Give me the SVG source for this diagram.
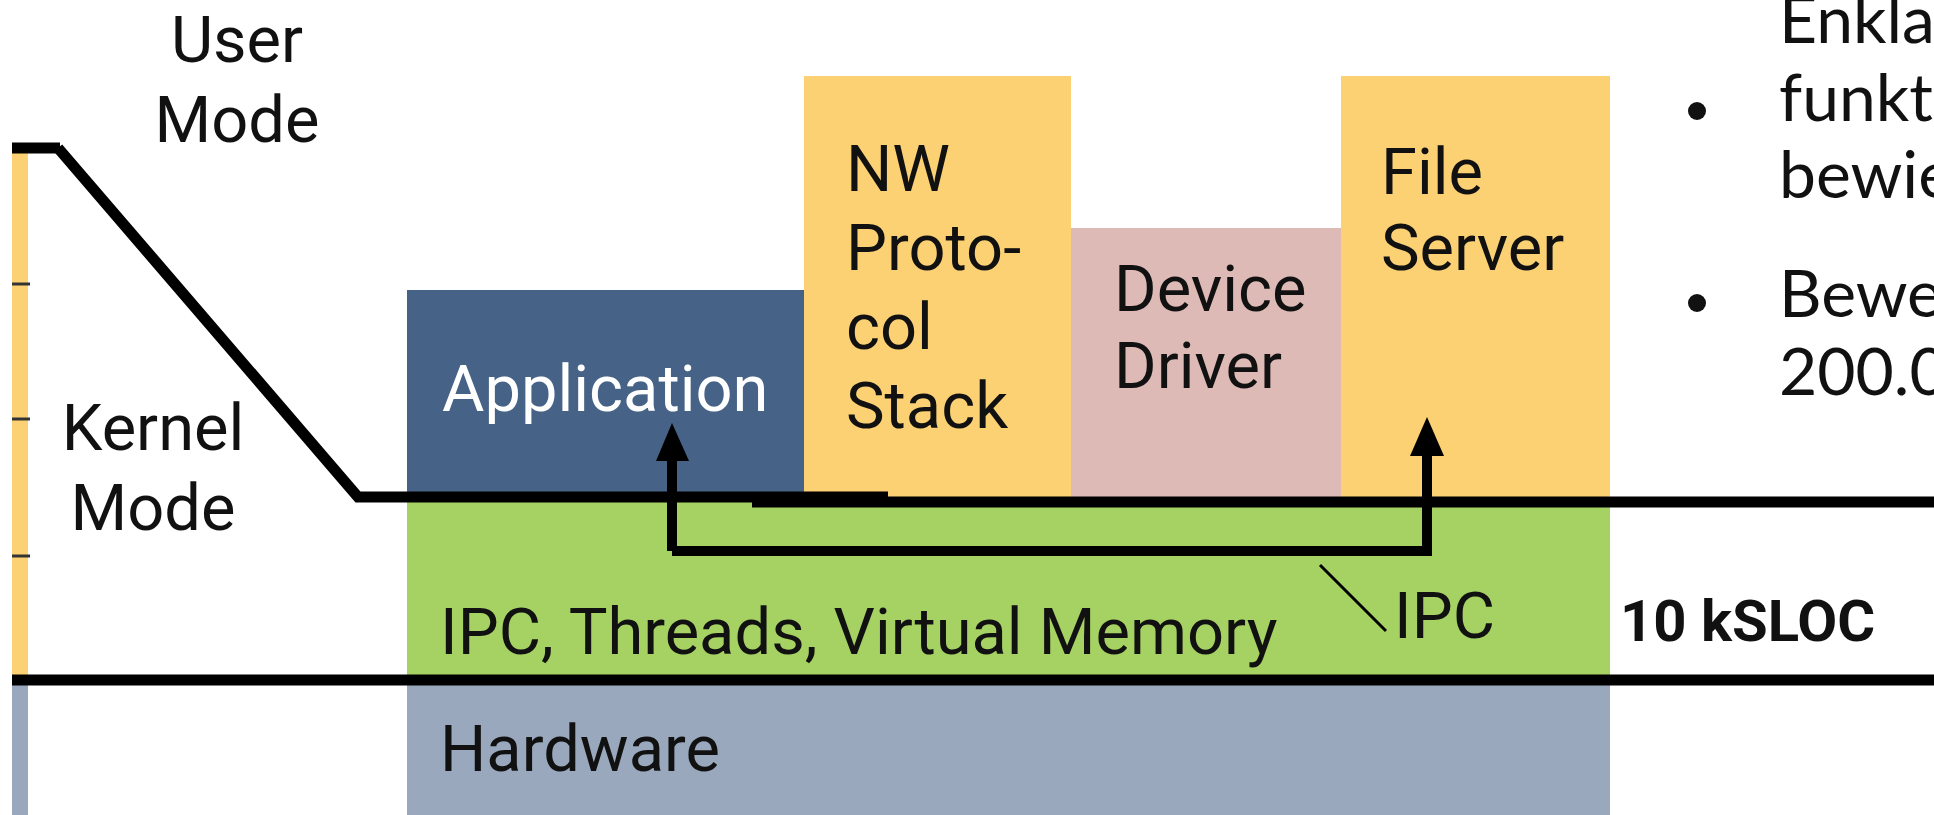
<svg xmlns="http://www.w3.org/2000/svg" width="1934" height="815" viewBox="0 0 1934 815">
<style>
.t{font-family:Roboto,"Liberation Sans",sans-serif;font-size:65px;fill:#111}
.w{fill:#fff}
.b{font-weight:bold;font-size:58px}
.r{font-family:Lato,"Liberation Sans",sans-serif;font-size:66px;fill:#111}
.ln{stroke:#000;stroke-width:11;fill:none}
</style>
<rect width="1934" height="815" fill="#fff"/>
<g id="leftbar">
<rect x="12" y="150" width="16" height="528" fill="#FCD174"/>
<rect x="12" y="682" width="16" height="133" fill="#99A8BC"/>
<g stroke="#333" stroke-width="3">
<line x1="12" y1="284" x2="30" y2="284"/>
<line x1="12" y1="419" x2="30" y2="419"/>
<line x1="12" y1="556" x2="30" y2="556"/>
</g>
</g>
<g id="application">
<rect x="407" y="290" width="397" height="207" fill="#466387"/>
<text class="t w" x="442" y="411">Application</text>
</g>
<g id="nwstack">
<rect x="804" y="76" width="267" height="421" fill="#FCD174"/>
<text class="t" x="846" y="191">NW</text>
<text class="t" x="846" y="270">Proto-</text>
<text class="t" x="846" y="349">col</text>
<text class="t" x="846" y="428">Stack</text>
</g>
<g id="devicedriver">
<rect x="1071" y="228" width="270" height="269" fill="#DEBAB6"/>
<text class="t" x="1114" y="311">Device</text>
<text class="t" x="1114" y="388">Driver</text>
</g>
<g id="fileserver">
<rect x="1341" y="76" width="269" height="421" fill="#FCD174"/>
<text class="t" x="1381" y="194">File</text>
<text class="t" x="1381" y="270">Server</text>
</g>
<g id="kernel">
<rect x="407" y="497" width="1203" height="183" fill="#A6D263"/>
<text class="t" x="440" y="654">IPC, Threads, Virtual Memory</text>
</g>
<g id="hardware">
<rect x="407" y="680" width="1203" height="135" fill="#99A8BC"/>
<text class="t" x="440" y="771">Hardware</text>
</g>
<g id="labels">
<text class="t" x="237" y="62" text-anchor="middle">User</text>
<text class="t" x="237" y="142" text-anchor="middle">Mode</text>
<text class="t" x="153" y="450" text-anchor="middle">Kernel</text>
<text class="t" x="153" y="530" text-anchor="middle">Mode</text>
<text class="t b" x="1620" y="641">10 kSLOC</text>
<text class="t" x="1394" y="638">IPC</text>
</g>
<g id="connectors">
<path class="ln" d="M12,148 L60,148" stroke-width="14"/>
<path class="ln" d="M58,148 L358,497 L888,497"/>
<path class="ln" d="M752,502 L1934,502"/>
<path class="ln" d="M12,680 L1934,680"/>
<path d="M672,551 L672,455" stroke="#000" stroke-width="10" fill="none"/>
<path d="M672,551 L1427,551 L1427,450" stroke="#000" stroke-width="10" fill="none" stroke-linejoin="miter"/>
<path d="M656,461 L672,423 L689,461 Z" fill="#000"/>
<path d="M1410,456 L1427,417 L1444,456 Z" fill="#000"/>
<line x1="1320" y1="565" x2="1386" y2="631" stroke="#000" stroke-width="3"/>
</g>
<g id="bullets">
<text class="r" x="1779" y="43">Enkla</text>
<circle cx="1697" cy="111" r="9" fill="#111"/>
<text class="r" x="1779" y="121">funkt</text>
<text class="r" x="1779" y="198">bewie</text>
<circle cx="1697" cy="303" r="9" fill="#111"/>
<text class="r" x="1779" y="317">Bewe</text>
<text class="r" x="1779" y="395">200.0</text>
</g>
</svg>
